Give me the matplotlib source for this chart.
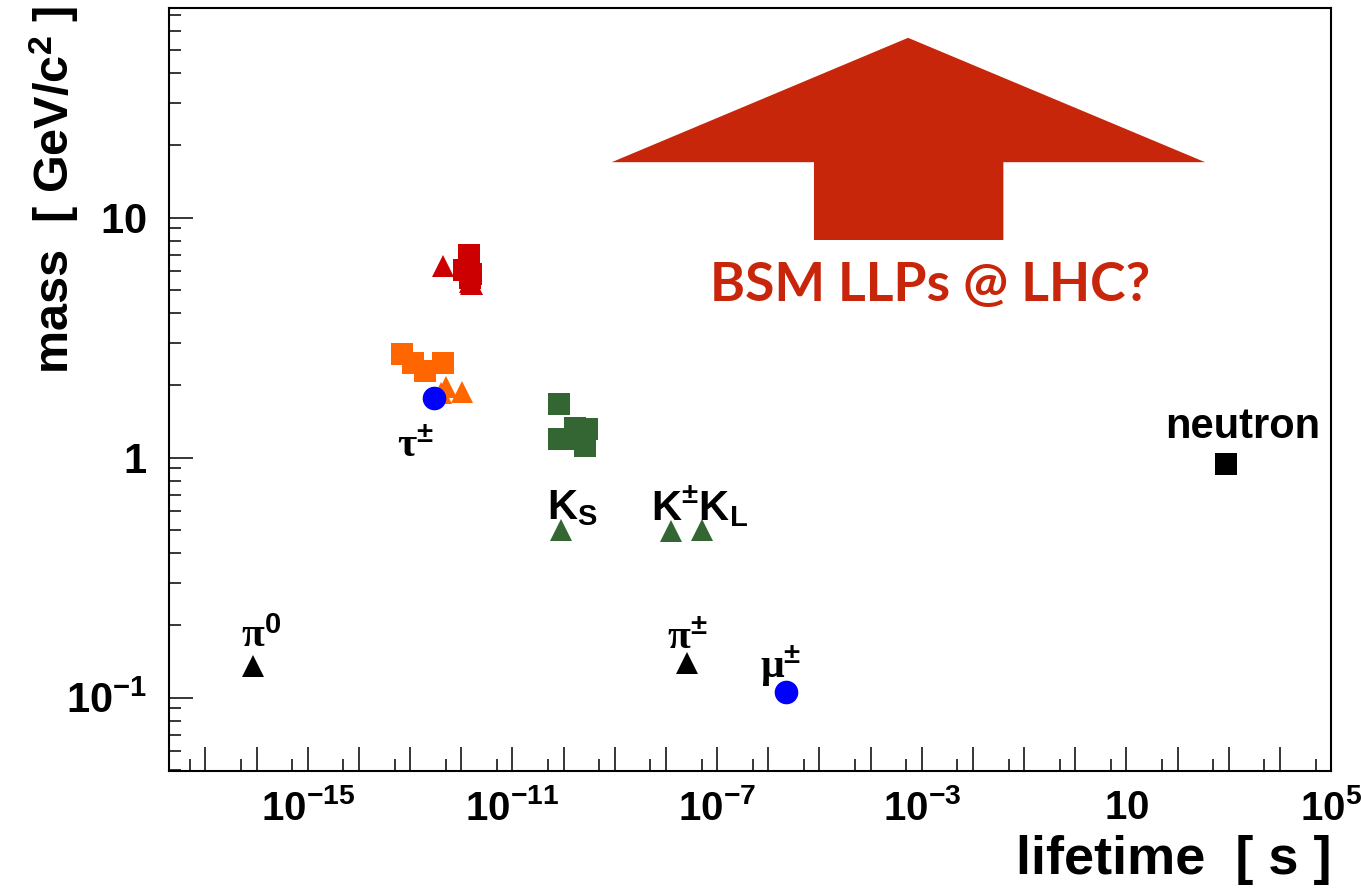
import math

import matplotlib
matplotlib.use('Agg')
import matplotlib.pyplot as plt
from matplotlib.patches import Polygon
from matplotlib.ticker import FixedLocator, FuncFormatter, NullFormatter

plt.rcParams['font.family'] = 'Liberation Sans'
plt.rcParams['font.weight'] = 'bold'
plt.rcParams['mathtext.fontset'] = 'custom'
plt.rcParams['mathtext.rm'] = 'Liberation Serif'
plt.rcParams['mathtext.it'] = 'Liberation Serif:italic'
plt.rcParams['mathtext.bf'] = 'Liberation Sans:bold'

# Data: lifetime [s], mass [GeV/c^2]
black_tri_tau = [8.5e-17, 2.6e-8]          # pi0, pi+-
black_tri_mass = [0.135, 0.1396]
black_sq_tau = [880.0]                      # neutron
black_sq_mass = [0.9396]
blue_tau = [2.9e-13, 2.2e-6]                # tau, mu
blue_mass = [1.777, 0.1057]
green_tri_tau = [8.95e-11, 1.24e-8, 5.12e-8]   # KS, K+-, KL
green_tri_mass = [0.4976, 0.4937, 0.4976]
green_sq_tau = [2.63e-10, 8.02e-11, 1.48e-10, 2.90e-10, 1.64e-10, 8.21e-11]
green_sq_mass = [1.116, 1.189, 1.197, 1.315, 1.322, 1.672]
orange_tri_tau = [1.04e-12, 4.10e-13, 5.0e-13]
orange_tri_mass = [1.870, 1.865, 1.968]
orange_sq_tau = [2.0e-13, 4.42e-13, 1.12e-13, 6.9e-14]
orange_sq_mass = [2.286, 2.468, 2.471, 2.695]
red_tri_tau = [1.638e-12, 1.52e-12, 1.51e-12, 4.5e-13]
red_tri_mass = [5.279, 5.280, 5.367, 6.275]
red_sq_tau = [1.47e-12, 1.48e-12, 1.57e-12, 1.13e-12, 1.42e-12]
red_sq_mass = [5.62, 5.79, 5.80, 6.05, 7.0]

# particle labels: text, lifetime, mass, offset (pt), ha
label_text = [r'$\mathrm{\pi}^{\mathbf{0}}$', r'$\mathrm{\pi}^{\mathbf{\pm}}$',
              r'$\mathrm{\mu}^{\mathbf{\pm}}$', r'$\mathrm{\tau}^{\mathbf{\pm}}$',
              r'$\mathbf{K_S}$', r'$\mathbf{K^{\pm}K_L}$', 'neutron']
label_tau = [8.5e-17, 2.6e-8, 2.2e-6, 2.9e-13, 8.95e-11, 1.24e-8, 880.0]
label_mass = [0.135, 0.1396, 0.1057, 1.777, 0.4976, 0.4937, 0.9396]
label_dx = [6, 0, -4, -13, -10, -14, 12]
label_dy = [14, 10, 10, -43, 8, 8, 19]
label_ha = ['center', 'center', 'center', 'center', 'left', 'left', 'center']

fig = plt.figure(figsize=(13.61, 8.96), dpi=100)
ax = fig.add_axes([0.1242, 0.1395, 0.8538, 0.8515])
ax.set_xscale('log')
ax.set_yscale('log')
ax.set_xlim(10**-17.71, 1e5)
ax.set_ylim(0.0494, 74.6)

ms = 16
kw = dict(linestyle='none', markersize=ms, markeredgewidth=0)
ax.plot(orange_sq_tau, orange_sq_mass, 's', color='#ff6600', **kw)
ax.plot(orange_tri_tau, orange_tri_mass, '^', color='#ff6600', **kw)
ax.plot(red_sq_tau, red_sq_mass, 's', color='#cc0000', **kw)
ax.plot(red_tri_tau, red_tri_mass, '^', color='#cc0000', **kw)
ax.plot(green_sq_tau, green_sq_mass, 's', color='#336633', **kw)
ax.plot(green_tri_tau, green_tri_mass, '^', color='#336633', **kw)
ax.plot(black_tri_tau, black_tri_mass, '^', color='black', **kw)
ax.plot(black_sq_tau, black_sq_mass, 's', color='black', **kw)
ax.plot(blue_tau, blue_mass, 'o', color='#0000ff', markersize=ms + 1, markeredgewidth=0, linestyle='none')

for t, x, y, dx, dy, ha in zip(label_text, label_tau, label_mass, label_dx, label_dy, label_ha):
    ax.annotate(t, xy=(x, y), xytext=(dx, dy), textcoords='offset points',
                ha=ha, va='baseline', fontsize=30, fontweight='bold')

# ticks
xmaj = [10.0**k for k in range(-17, 6)]
xlab = {-15, -11, -7, -3, 1, 5}
xmin = [5 * 10.0**k for k in range(-18, 5)]

def xfmt(v, pos):
    k = int(round(math.log10(v)))
    if k not in xlab:
        return ''
    if k == 1:
        return r'$\mathbf{10}$'
    return r'$\mathbf{10^{%d}}$' % k

ax.xaxis.set_major_locator(FixedLocator(xmaj))
ax.xaxis.set_major_formatter(FuncFormatter(xfmt))
ax.xaxis.set_minor_locator(FixedLocator(xmin))
ax.xaxis.set_minor_formatter(NullFormatter())

ymaj = [0.1, 1, 10]
ytick_labels = [r'$\mathbf{10^{-1}}$', r'$\mathbf{1}$', r'$\mathbf{10}$']
ymin = [m * 10.0**k for k in range(-2, 2) for m in range(2, 10)]
ax.yaxis.set_major_locator(FixedLocator(ymaj))
ax.set_yticklabels(ytick_labels)
ax.yaxis.set_minor_locator(FixedLocator(ymin))
ax.yaxis.set_minor_formatter(NullFormatter())

ax.tick_params(which='both', direction='in', top=False, right=False, width=1.1)
ax.tick_params(which='major', length=17)
ax.tick_params(which='minor', length=8.6)
ax.tick_params(axis='x', which='major', pad=13, labelsize=29)
ax.tick_params(axis='y', which='major', pad=16, labelsize=30)
for s in ax.spines.values():
    s.set_linewidth(1.5)

fig.text(0.978, 0.040, 'lifetime  [ s ]', ha='right', va='center', fontsize=39, fontweight='bold')
fig.text(0.040, 0.994, r'mass  [ GeV/c$^{\mathbf{2}}$ ]', rotation=90, ha='center', va='top',
         fontsize=35, fontweight='bold')

# BSM arrow
arrow_shape = [(0.636, 0.961), (0.8916, 0.798), (0.718, 0.798), (0.718, 0.696),
               (0.555, 0.696), (0.555, 0.798), (0.381, 0.798)]
ax.add_patch(Polygon(arrow_shape, closed=True, transform=ax.transAxes,
                     facecolor='#c8260a', edgecolor='none'))
ax.text(0.655, 0.637, 'BSM LLPs @ LHC?', transform=ax.transAxes, ha='center', va='center',
        fontsize=38.5, color='#c8260a', family='Lato', fontweight='bold')

plt.savefig('out.png', dpi=100)
plt.close()
